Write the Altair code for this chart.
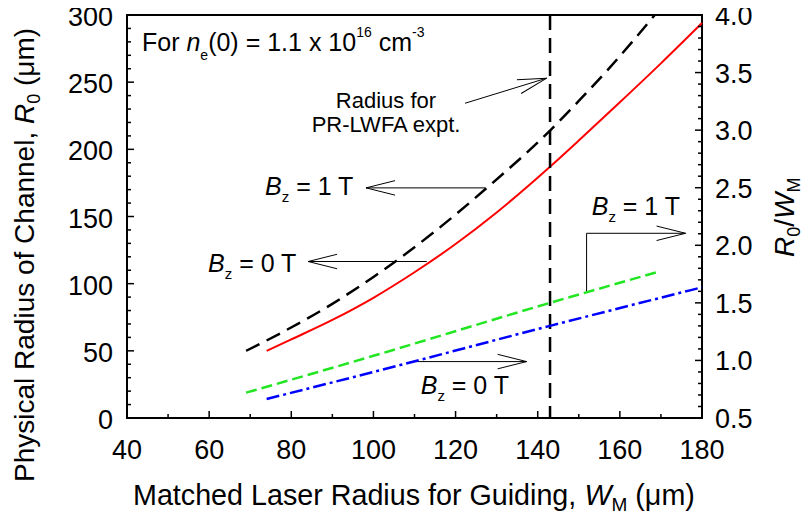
import altair as alt
import pandas as pd

FONT = "Liberation Sans"

# ---------------- data ----------------
red_w = [74, 80, 90, 100, 110, 120, 130, 143, 150, 160, 170, 180]
red_r = [50, 58.5, 73, 89.5, 108.5, 129.5, 153, 187, 206.5, 235, 264, 294]

black_w = [69, 77, 90, 100, 106, 115, 127.5, 143, 150, 157, 163, 168.5]
black_r = [50, 62.5, 85, 105, 118, 139, 171, 214, 236, 259, 280, 300]

green_w = [69, 100, 143, 169.4]
green_q = [0.72, 1.04, 1.50, 1.77]

blue_w = [74, 100, 143, 180]
blue_q = [0.665, 0.90, 1.30, 1.635]

guide_w = [143]

x_major = [40, 60, 80, 100, 120, 140, 160, 180]
x_minor = [50, 70, 90, 110, 130, 150, 170]
yl_major = [0, 50, 100, 150, 200, 250, 300]
yl_minor = [v for v in range(10, 300, 10) if v % 50]
yr_major = [0.5, 1.0, 1.5, 2.0, 2.5, 3.0, 3.5, 4.0]
yr_minor = [round(0.5 + 0.1 * i, 1) for i in range(1, 35) if i % 5]

x_labels = [str(v) for v in x_major]
yl_labels = [str(v) for v in yl_major]
yr_labels = [f"{v:.1f}" for v in yr_major]

# ---------------- layout ----------------
W_PLOT, H_PLOT = 575, 403
xs = alt.Scale(domain=[40, 180], nice=False, zero=False)
yls = alt.Scale(domain=[0, 300], nice=False, zero=False)
yrs = alt.Scale(domain=[0.5, 4.0], nice=False, zero=False)


def curve(w, v, yscale, color, width, dash=None):
    df = pd.DataFrame({"w": w, "v": v})
    kw = dict(color=color, strokeWidth=width, interpolate="monotone")
    if dash:
        kw["strokeDash"] = dash
    return alt.Chart(df).mark_line(**kw).encode(
        x=alt.X("w:Q", scale=xs, axis=None),
        y=alt.Y("v:Q", scale=yscale, axis=None),
    )


red = curve(red_w, red_r, yls, "#ff0000", 2)
black = curve(black_w, black_r, yls, "black", 2.5, [15, 8])
green = curve(green_w, green_q, yrs, "#22e622", 2.5, [11, 5])
blue = curve(blue_w, blue_q, yrs, "#0000ff", 2.5, [13, 4, 3, 4])

guide = alt.Chart(pd.DataFrame({"w": guide_w})).mark_rule(
    color="black", strokeWidth=2.5, strokeDash=[15, 8]
).encode(x=alt.X("w:Q", scale=xs, axis=None), y=alt.value(0), y2=alt.value(H_PLOT))


def xticks(vals, ln):
    return alt.Chart(pd.DataFrame({"v": vals})).mark_rule(color="black", strokeWidth=1.5).encode(
        x=alt.X("v:Q", scale=xs, axis=None), y=alt.value(H_PLOT), y2=alt.value(H_PLOT - ln))


def lticks(vals, ln):
    return alt.Chart(pd.DataFrame({"v": vals})).mark_rule(color="black", strokeWidth=1.5).encode(
        y=alt.Y("v:Q", scale=yls, axis=None), x=alt.value(0), x2=alt.value(ln))


def rticks(vals, ln):
    return alt.Chart(pd.DataFrame({"v": vals})).mark_rule(color="black", strokeWidth=1.5).encode(
        y=alt.Y("v:Q", scale=yrs, axis=None), x=alt.value(W_PLOT), x2=alt.value(W_PLOT - ln))


LBL = dict(font=FONT, fontSize=27, color="black", baseline="alphabetic")

xlab = alt.Chart(pd.DataFrame({"v": x_major, "t": x_labels})).mark_text(align="center", **LBL).encode(
    x=alt.X("v:Q", scale=xs, axis=None), y=alt.value(H_PLOT + 40.5), text="t:N")
ylab = alt.Chart(pd.DataFrame({"v": yl_major, "t": yl_labels})).mark_text(align="right", dy=11, **LBL).encode(
    y=alt.Y("v:Q", scale=yls, axis=None), x=alt.value(-14), text="t:N")
rlab = alt.Chart(pd.DataFrame({"v": yr_major, "t": yr_labels})).mark_text(align="left", dy=10, **LBL).encode(
    y=alt.Y("v:Q", scale=yrs, axis=None), x=alt.value(W_PLOT + 13), text="t:N")

# arrows (in left-axis data units)
seg = pd.DataFrame({
    "x1": [122.3, 98.2, 84.1, 151.9, 151.9, 108.9],
    "y1": [234.3, 171.3, 116.5, 93.2, 137.5, 42.0],
    "x2": [142.2, 127.2, 113.0, 151.9, 176.0, 137.3],
    "y2": [253.0, 171.3, 116.5, 137.5, 137.5, 42.0],
})
segs = alt.Chart(seg).mark_rule(color="black", strokeWidth=1).encode(
    x=alt.X("x1:Q", scale=xs, axis=None), y=alt.Y("y1:Q", scale=yls, axis=None),
    x2="x2:Q", y2="y2:Q")

heads_df = pd.DataFrame({
    "x": [142.2, 98.2, 84.1, 176.0, 137.3],
    "y": [253.0, 171.3, 116.5, 137.5, 42.0],
    "a": [343, 180, 180, 0, 0],
})
HEAD = "M-1,-0.25L0,0L-1,0.25"
heads = alt.Chart(heads_df).mark_point(
    shape=HEAD, filled=False, size=3364, strokeWidth=1, color="black", opacity=1
).encode(x=alt.X("x:Q", scale=xs, axis=None), y=alt.Y("y:Q", scale=yls, axis=None),
         angle=alt.Angle("a:Q", scale=None))

# ---------------- text helpers ----------------
CW = {' ': 278, '(': 333, ')': 333, ',': 278, '-': 333, '.': 278, '/': 278, '=': 584,
      'A': 667, 'B': 667, 'C': 722, 'F': 611, 'G': 778, 'L': 556, 'M': 833, 'P': 667,
      'R': 722, 'T': 611, 'W': 944, 'a': 556, 'c': 500, 'd': 556, 'e': 556, 'f': 278,
      'g': 556, 'h': 556, 'i': 222, 'l': 222, 'm': 833, 'n': 556, 'o': 556, 'p': 556,
      'r': 333, 's': 500, 't': 278, 'u': 556, 'x': 500, 'y': 500, 'z': 500, 'μ': 576}


def tw(s, size):
    return sum(CW.get(c, 556) for c in s) * size / 1000.0


ONE = pd.DataFrame({"k": [0]})


def txt(s, x, y, size, italic=False, align="left", angle=0):
    kw = dict(text=s, font=FONT, fontSize=size, color="black", align=align, baseline="alphabetic")
    if italic:
        kw["fontStyle"] = "italic"
    if angle:
        kw["angle"] = angle
    return alt.Chart(ONE).mark_text(**kw).encode(x=alt.value(x), y=alt.value(y))


def rich(pieces, x, y, angle=0):
    out = []
    pos = 0.0
    for s, size, italic, shift in pieces:
        lead = len(s) - len(s.lstrip(" "))
        p = pos + tw(s[:lead], size)
        body = s.strip(" ")
        if angle == 270:
            out.append(txt(body, x + shift, y - p, size, italic, angle=270))
        else:
            out.append(txt(body, x + p, y + shift, size, italic))
        pos += tw(s, size)
    return out


def bz(x, y, val):
    return rich([("B", 25, True, 0), ("z", 15, False, 7), (f" = {val} T", 25, False, 0)], x, y)


texts = []
texts += rich([("For ", 25, False, 0), ("n", 25, True, 0), ("e", 14, False, 9),
               ("(0) = 1.1 x 10", 25, False, 0), ("16", 14, False, -14),
               (" cm", 25, False, 0), ("-3", 14, False, -14)], 15, 36)
texts += rich([("Physical Radius of Channel, ", 28, False, 0), ("R", 28, True, 0),
               ("0", 18, False, 6), (" (μm)", 28, False, 0)], -93, 467, angle=270)
texts += rich([("Matched Laser Radius for Guiding, ", 28.7, False, 0), ("W", 28.7, True, 0),
               ("M", 19, False, 6), (" (μm)", 28.7, False, 0)], 6, 490)
texts += rich([("R", 28, True, 0), ("0", 18, False, 6), ("/", 28, False, 0),
               ("W", 28, True, 0), ("M", 18, False, 6)], 667, 242, angle=270)
texts += bz(138, 180, 1)
texts += bz(81, 256.7, 0)
texts += bz(464.7, 200, 1)
texts += bz(293.7, 379, 0)
texts.append(txt("Radius for", 259, 93, 22, align="center"))
texts.append(txt("PR-LWFA expt.", 259, 117, 22, align="center"))

left = alt.layer(red, black, guide, xticks(x_major, 7), xticks(x_minor, 4),
                 lticks(yl_major, 7), lticks(yl_minor, 4), xlab, ylab, segs, heads, *texts)
right = alt.layer(green, blue, rticks(yr_major, 7), rticks(yr_minor, 4), rlab)

chart = alt.layer(left, right).resolve_scale(y="independent").properties(
    width=W_PLOT, height=H_PLOT,
    autosize=alt.AutoSizeParams(type="none"),
    padding={"left": 119, "top": 7, "right": 99, "bottom": 94},
).configure_view(stroke="black", strokeWidth=2)

chart.save("out.html", embed_options={"renderer": "svg", "actions": False})
